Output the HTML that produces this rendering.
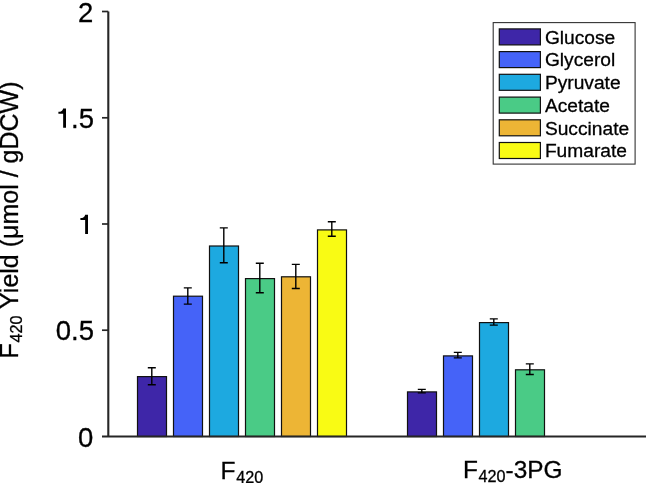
<!DOCTYPE html>
<html><head><meta charset="utf-8"><title>chart</title>
<style>
html,body{margin:0;padding:0;background:#fff;}
body{width:646px;height:483px;overflow:hidden;position:relative;font-family:"Liberation Sans",sans-serif;}
svg{position:absolute;left:0;top:0;will-change:transform;}
text{font-family:"Liberation Sans",sans-serif;fill:#000;stroke:#000;stroke-width:0.3px;}
</style></head><body>
<svg width="646" height="483" viewBox="0 0 646 483">

<rect x="137.5" y="376.6" width="29.0" height="59.9" fill="#3E26A8" stroke="#111" stroke-width="1.2"/>
<rect x="173.5" y="296.2" width="29.0" height="140.3" fill="#4563F8" stroke="#111" stroke-width="1.2"/>
<rect x="209.5" y="246.0" width="29.0" height="190.5" fill="#1DA9E0" stroke="#111" stroke-width="1.2"/>
<rect x="245.5" y="278.6" width="29.0" height="157.9" fill="#4ACB86" stroke="#111" stroke-width="1.2"/>
<rect x="281.5" y="276.8" width="29.0" height="159.7" fill="#EDB535" stroke="#111" stroke-width="1.2"/>
<rect x="317.5" y="229.9" width="29.0" height="206.6" fill="#F9FB14" stroke="#111" stroke-width="1.2"/>
<rect x="407.5" y="391.9" width="29.0" height="44.6" fill="#3E26A8" stroke="#111" stroke-width="1.2"/>
<rect x="443.5" y="355.9" width="29.0" height="80.6" fill="#4563F8" stroke="#111" stroke-width="1.2"/>
<rect x="479.5" y="322.6" width="29.0" height="113.9" fill="#1DA9E0" stroke="#111" stroke-width="1.2"/>
<rect x="515.5" y="369.8" width="29.0" height="66.7" fill="#4ACB86" stroke="#111" stroke-width="1.2"/>
<path d="M151.8 367.7V384.8M147.8 367.7H155.8M147.8 384.8H155.8" stroke="#000" stroke-width="1.4" fill="none"/>
<path d="M187.8 287.9V304.1M183.8 287.9H191.8M183.8 304.1H191.8" stroke="#000" stroke-width="1.4" fill="none"/>
<path d="M223.8 227.9V262.7M219.8 227.9H227.8M219.8 262.7H227.8" stroke="#000" stroke-width="1.4" fill="none"/>
<path d="M259.8 263.2V292.7M255.8 263.2H263.8M255.8 292.7H263.8" stroke="#000" stroke-width="1.4" fill="none"/>
<path d="M295.8 264.4V288.5M291.8 264.4H299.8M291.8 288.5H299.8" stroke="#000" stroke-width="1.4" fill="none"/>
<path d="M331.8 221.7V236.3M327.8 221.7H335.8M327.8 236.3H335.8" stroke="#000" stroke-width="1.4" fill="none"/>
<path d="M421.8 389.4V392.9M417.8 389.4H425.8M417.8 392.9H425.8" stroke="#000" stroke-width="1.4" fill="none"/>
<path d="M457.8 352.4V357.9M453.8 352.4H461.8M453.8 357.9H461.8" stroke="#000" stroke-width="1.4" fill="none"/>
<path d="M493.8 318.9V325.1M489.8 318.9H497.8M489.8 325.1H497.8" stroke="#000" stroke-width="1.4" fill="none"/>
<path d="M529.8 363.9V374.5M525.8 363.9H533.8M525.8 374.5H533.8" stroke="#000" stroke-width="1.4" fill="none"/>
<path d="M108.3 11.5V436.5M102 436.5H646" stroke="#262626" stroke-width="2.1" fill="none"/>
<path d="M102 330.2H108.3" stroke="#262626" stroke-width="1.7" fill="none"/>
<path d="M102 224.0H108.3" stroke="#262626" stroke-width="1.7" fill="none"/>
<path d="M102 117.8H108.3" stroke="#262626" stroke-width="1.7" fill="none"/>
<path d="M102 11.5H108.3" stroke="#262626" stroke-width="1.7" fill="none"/>
<text x="93.3" y="446.6" font-size="27.5" text-anchor="end">0</text>
<text x="94.0" y="340.4" font-size="27.5" text-anchor="end">0.5</text>
<text x="94.0" y="127.8" font-size="27.5" text-anchor="end">.5</text>
<text x="93.3" y="21.6" font-size="27.5" text-anchor="end">2</text>
<path d="M85.15 214.70H88.00V234.10H85.15V220.10H80.40V218.05C83.20 218.00 84.70 217.10 85.15 214.70Z" fill="#000"/>
<path d="M63.15 108.45H66.00V127.85H63.15V113.85H58.40V111.80C61.20 111.75 62.70 110.85 63.15 108.45Z" fill="#000"/>
<text x="220.6" y="478.6" font-size="24.5">F<tspan font-size="16.2" dy="4.2" dx="0.6">420</tspan></text>
<text x="463.0" y="478.0" font-size="24.4">F<tspan font-size="16.2" dy="4.2" dx="0.6">420</tspan><tspan dy="-4.2">-3PG</tspan></text>
<text transform="translate(17.8 358.5) rotate(-90)" font-size="25" letter-spacing="0">F<tspan font-size="16.2" dy="4.2" dx="0.8">420</tspan><tspan dy="-4.2"> Yield (μmol / gDCW)</tspan></text>
<rect x="493.2" y="22.6" width="141.9" height="141.5" fill="#fff" stroke="#333" stroke-width="1.1"/>
<rect x="499.3" y="28.9" width="41.1" height="16.0" fill="#3E26A8" stroke="#111" stroke-width="1.2"/>
<text x="544.9" y="43.6" font-size="19.2">Glucose</text>
<rect x="499.3" y="51.6" width="41.1" height="16.0" fill="#4563F8" stroke="#111" stroke-width="1.2"/>
<text x="544.9" y="66.3" font-size="19.2">Glycerol</text>
<rect x="499.3" y="74.3" width="41.1" height="16.0" fill="#1DA9E0" stroke="#111" stroke-width="1.2"/>
<text x="544.9" y="89.0" font-size="19.2">Pyruvate</text>
<rect x="499.3" y="97.1" width="41.1" height="16.0" fill="#4ACB86" stroke="#111" stroke-width="1.2"/>
<text x="544.9" y="111.8" font-size="19.2">Acetate</text>
<rect x="499.3" y="119.8" width="41.1" height="16.0" fill="#EDB535" stroke="#111" stroke-width="1.2"/>
<text x="544.9" y="134.5" font-size="19.2">Succinate</text>
<rect x="499.3" y="142.5" width="41.1" height="16.0" fill="#F9FB14" stroke="#111" stroke-width="1.2"/>
<text x="544.9" y="157.2" font-size="19.2">Fumarate</text>
</svg></body></html>
